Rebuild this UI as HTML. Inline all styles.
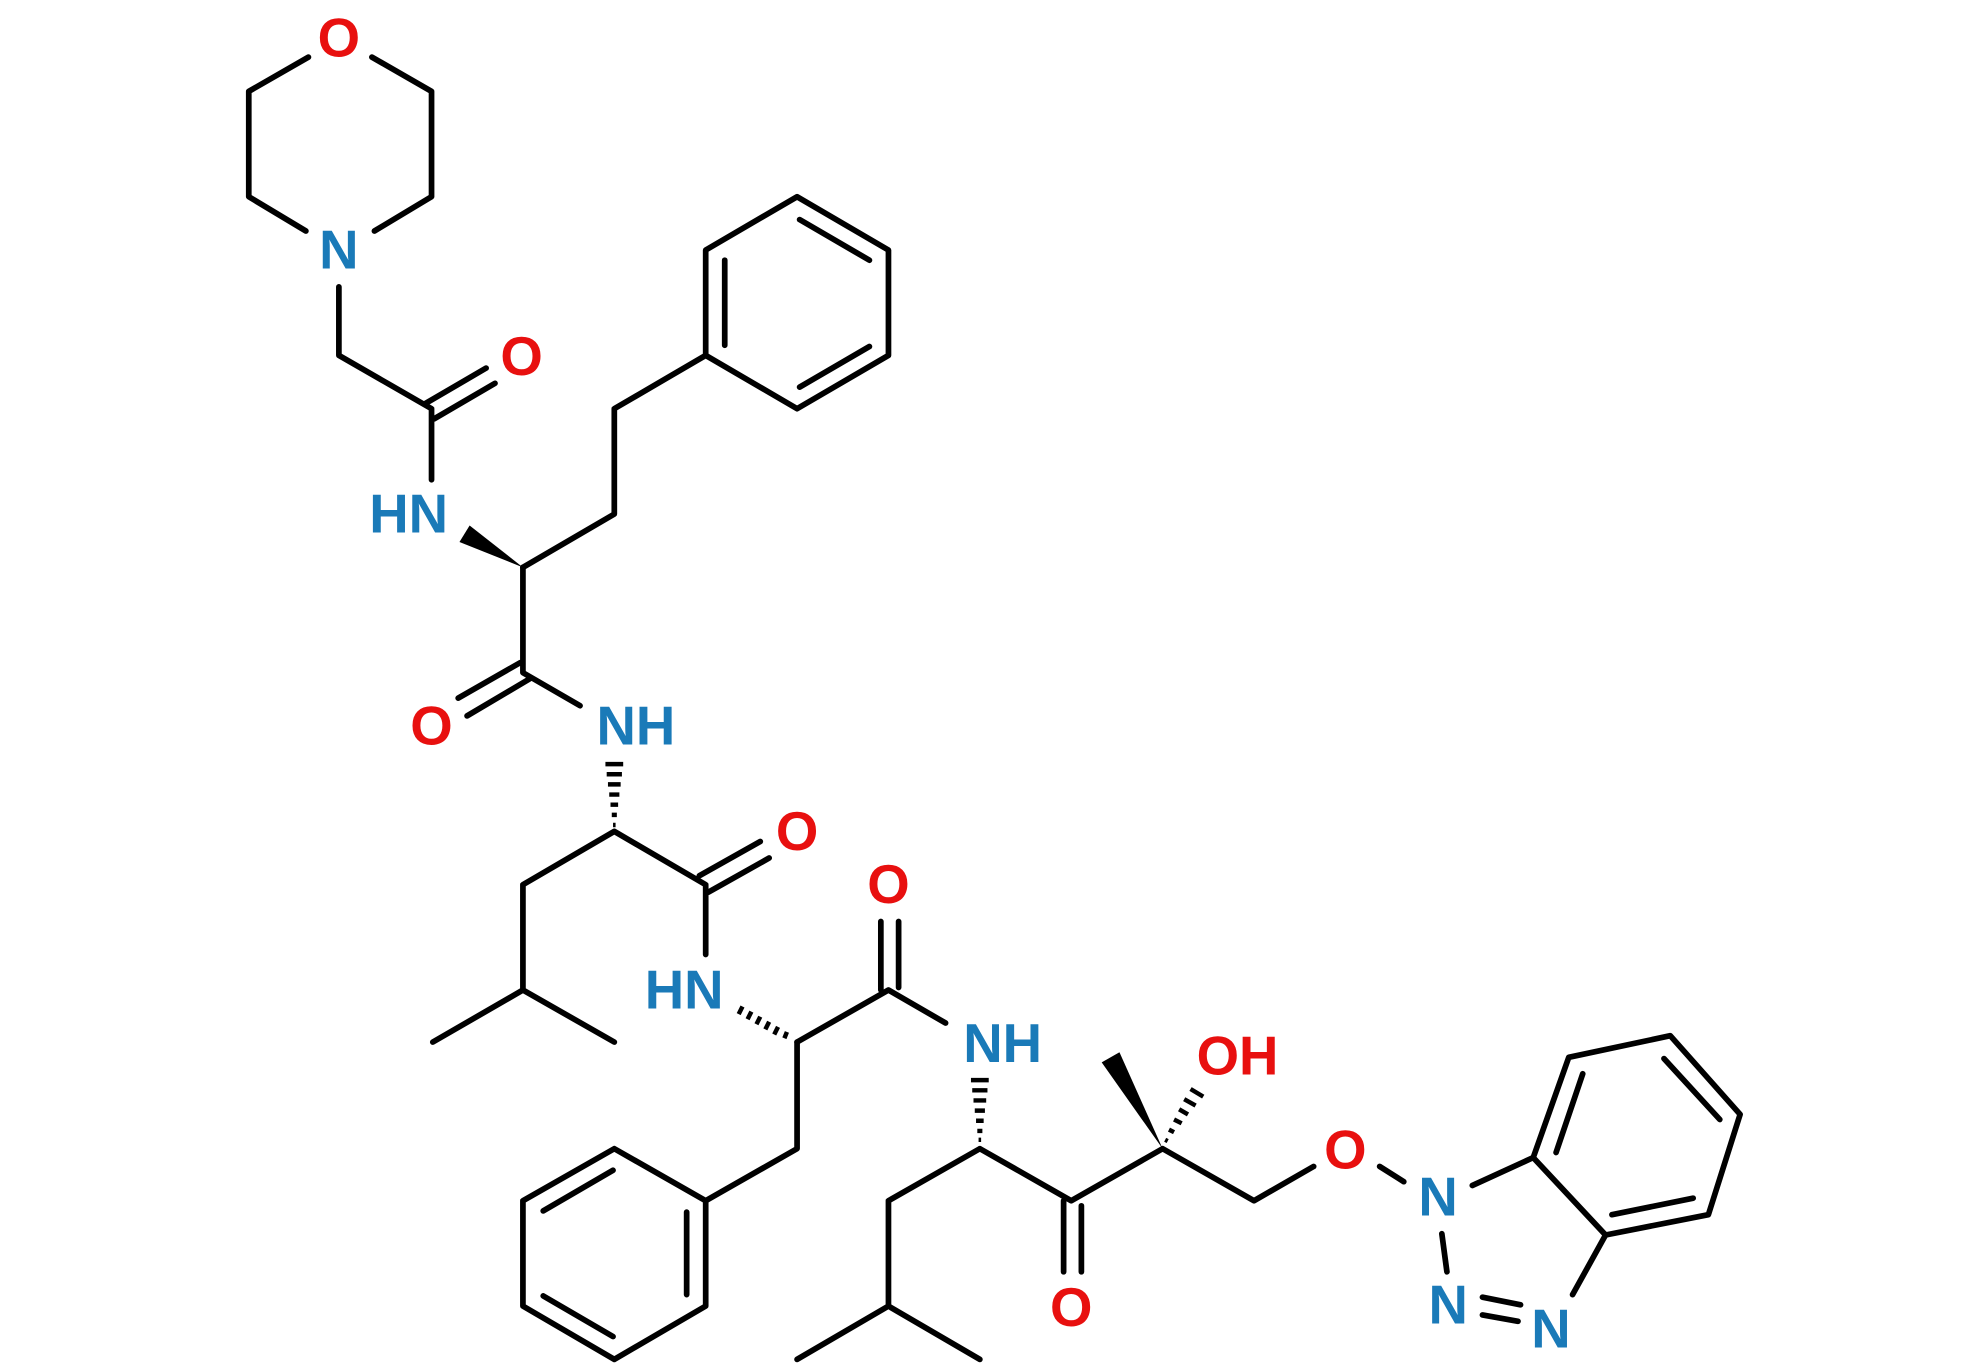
<!DOCTYPE html>
<html><head><meta charset="utf-8"><style>
html,body{margin:0;padding:0;background:#fff;}
svg{display:block}
text{font-family:"Liberation Sans",sans-serif;font-weight:bold;font-size:43px;text-anchor:middle;dominant-baseline:central}
.b{fill:#1a7ab8}.r{fill:#e8100f}
</style></head><body>
<svg width="1980" height="1367" viewBox="0 0 1560 1077" preserveAspectRatio="none" xmlns="http://www.w3.org/2000/svg">
<g stroke="#000" stroke-width="4.5" fill="none" stroke-linecap="round" stroke-linejoin="round">
<path d="M293,45L340,72L340,155L295,182M241,182L196,155L196,72L243,45"/>
<path d="M267,226L267,280L340,322L340,378"/>
<path d="M335,318L383,290M342,330L390,302"/>
<path d="M412,447L484,405L484,322L556,280L556,197L628,155L700,197L700,280L628,322L556,280"/>
<path d="M571,205L571,272M630,173L685,205M630,305L685,273"/>
<path d="M412,447L412,530L457,556M410,522L361,550M417,535L368,564"/>
<path d="M484,655L412,697L412,780L341,821M412,780L484,821M484,655L556,697L556,752"/>
<path d="M551,690L599,663M558,703L606,676"/>
<path d="M628,821L628,905L556,946L484,905L412,946L412,1029L484,1071L556,1029L556,946"/>
<path d="M541,955L541,1020M428,954L483,922M428,1021L483,1053"/>
<path d="M628,821L700,780L745,806M694,726L694,780M708,726L708,778"/>
<path d="M772,905L700,946L700,1029L628,1071M700,1029L772,1071M772,905L844,946L916,905L988,946L1035,919"/>
<path d="M838,946L838,1002M852,950L852,1002"/>
<path d="M1087,919L1106,931M1160,934L1208,912M1136,972L1140,1002M1168,1022L1198,1028M1168,1036L1196,1041M1239,1020L1265,973"/>
<path d="M1208,912L1236,833L1316,816L1371,878L1346,957L1265,973L1208,912"/>
<path d="M1226,908L1247,846M1311,834L1355,882M1270,957L1334,944"/>
</g>
<polygon points="412,447 362,427 370,414" fill="#000"/>
<polygon points="916,905 868,837 882,829" fill="#000"/>
<g stroke="#000" stroke-width="3.5">
<path d="M477,602L491,602M478,610L490,610M479,618L489,618M480,626L488,626M481,634L487,634M482,642L486,642M483,650L485,650"/>
<path d="M585,793L582,799M592,797L589,803M599,801L596,807M606,805L603,811M613,809L610,815M620,813L618,818"/>
<path d="M765,851L779,851M766,859L778,859M767,867L777,867M768,875L776,875M769,883L775,883M770,891L774,891M771,898L773,898"/>
<path d="M938,858L948,864M933,866L942,871M929,874L936,878M925,882L931,885M921,890L925,892M918,898L920,899"/>
</g>
<text x="267" y="30" class="r">O</text>
<text x="267" y="197" class="b">N</text>
<text x="411" y="281" class="r">O</text>
<text x="322" y="405" class="b">HN</text>
<text x="340" y="572" class="r">O</text>
<text x="501" y="572" class="b">NH</text>
<text x="628" y="655" class="r">O</text>
<text x="539" y="780" class="b">HN</text>
<text x="700" y="697" class="r">O</text>
<text x="790" y="822" class="b">NH</text>
<text x="975" y="832" class="r">OH</text>
<text x="844" y="1030" class="r">O</text>
<text x="1060" y="906" class="r">O</text>
<text x="1133" y="943" class="b">N</text>
<text x="1141" y="1028" class="b">N</text>
<text x="1222" y="1047" class="b">N</text>
</svg>
</body></html>
